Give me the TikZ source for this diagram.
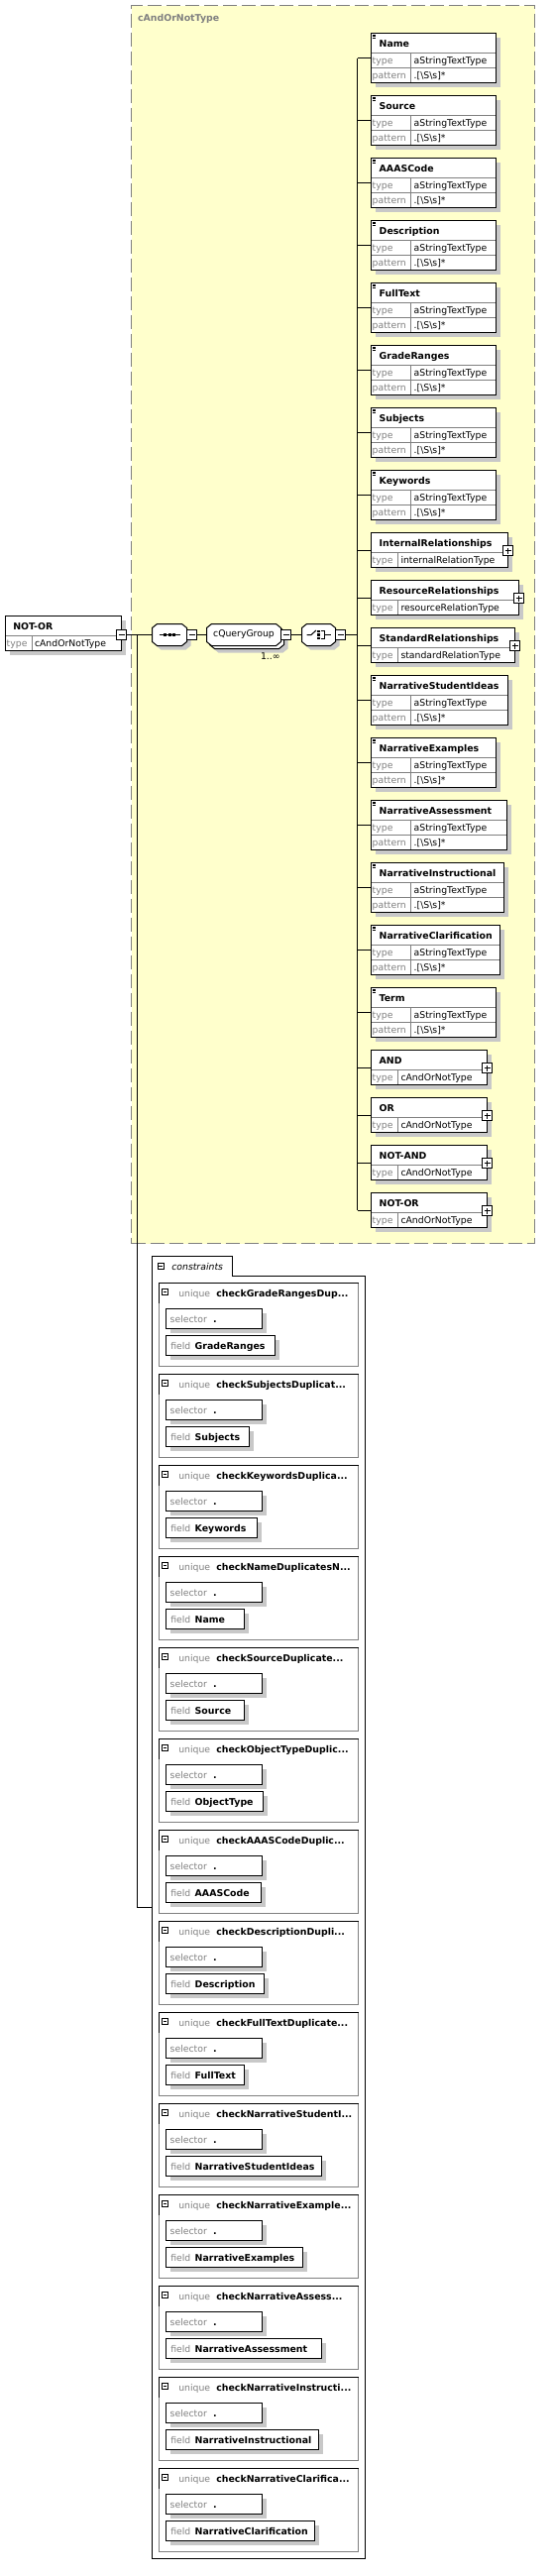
\documentclass[tikz,border=0pt]{standalone}
\usepackage{fontspec}
\setmainfont{DejaVu Sans}
\usetikzlibrary{positioning}
\usepackage{xcolor}

\definecolor{typeyellow}{RGB}{255,255,204}
\definecolor{labelgray}{RGB}{128,128,128}
\definecolor{shadowgray}{RGB}{200,200,200}
\newcommand{\trunc}{...}
% octagon outline round a named node
\newcommand{\octpath}[1]{([xshift=5pt]#1.north west) -- ([xshift=-5pt]#1.north east) -- ([yshift=-4pt]#1.north east)
    -- ([yshift=4pt]#1.south east) -- ([xshift=-5pt]#1.south east) -- ([xshift=5pt]#1.south west)
    -- ([yshift=4pt]#1.south west) -- ([yshift=-4pt]#1.north west) -- cycle}

\begin{document}
\begin{tikzpicture}[
                x=1pt, y=-1pt,
                every node/.style={inner sep=0pt, outer sep=0pt},
                shadowed/.style={preaction={draw=none, fill=shadowgray, transform canvas={xshift=4pt, yshift=-4pt}}},
                elembox/.style={rectangle, draw=black, fill=white, line width=1pt, anchor=north west, shadowed},
                uniquebox/.style={rectangle, draw=labelgray, line width=1pt, anchor=north west},
                compositor/.style={rectangle, minimum height=22pt, anchor=west},
                octline/.style={draw=black, fill=white, line width=1pt},
                octshadow/.style={fill=shadowgray, transform canvas={xshift=4pt, yshift=-4pt}},
                titletxt/.style={font=\fontsize{9.4}{11}\selectfont\bfseries, anchor=base west},
                graytxt/.style={font=\fontsize{9.3}{11}\selectfont, text=labelgray, anchor=base west},
                valtxt/.style={font=\fontsize{9.3}{11}\selectfont, anchor=base west},
                rowline/.style={draw=labelgray, line width=1pt},
                conn/.style={draw=black, line width=1pt},
                collapse/.style={rectangle, draw=black, fill=white, line width=1pt, minimum size=10pt,
                  path picture={\draw[line width=1pt] ([xshift=2pt]path picture bounding box.west) -- ([xshift=-2pt]path picture bounding box.east);}},
                expand/.style={rectangle, draw=black, fill=white, line width=1pt, minimum size=10pt,
                  path picture={\draw[line width=1pt] ([xshift=2pt]path picture bounding box.west) -- ([xshift=-2pt]path picture bounding box.east)
                                 ([yshift=2pt]path picture bounding box.south) -- ([yshift=-2pt]path picture bounding box.north);}},
                smallcollapse/.style={rectangle, draw=black, fill=white, line width=.8pt, minimum size=6pt,
                  path picture={\draw[line width=.8pt] ([xshift=1.2pt]path picture bounding box.west) -- ([xshift=-1.2pt]path picture bounding box.east);}},
                ]
        \useasboundingbox (0,0) rectangle (558,2599);

        % complex type area
        \node[draw=labelgray, fill=typeyellow, line width=1pt, dash pattern=on 14pt off 5pt,
              minimum width=407pt, minimum height=1249pt, anchor=north west] (ctype) at (132.5,5.5) {};
        \node[titletxt, text=labelgray] (ctypename) at (139,21.5) {cAndOrNotType};

        % root element
        \node[elembox, minimum width=117pt, minimum height=35pt] (root) at (5.5,621.5) {};
        \draw[rowline] (6,641.5) -- (122,641.5) (32.5,641.5) -- (32.5,656);
        \node[titletxt] at (13.3,635.5) {NOT-OR};
        \node[graytxt] at (6.7,652.5) {type};
        \node[valtxt] at (35,652.5) {cAndOrNotType};
        \node[collapse] (rootmin) at (122.5,640.5) {};

        % sequence, group, choice
        \node[compositor, minimum width=35pt] (seq) at (153.5,640.5) {};
        \fill[octshadow] \octpath{seq};
        \draw[octline] \octpath{seq};
        \draw[line width=1pt] ([xshift=-10.5pt]seq.center) -- ([xshift=10.5pt]seq.center);
        \foreach \dx in {-4.5,0,4.5}
            \fill ([xshift=\dx pt]seq.center) +(-1.5,-1.5) rectangle +(1.5,1.5);
        \node[collapse] (seqmin) at (193.5,640.5) {};

        \node[compositor, minimum width=75pt] (qgstack) at (211.5,643.5) {};
        \fill[octshadow] \octpath{qgstack};
        \draw[octline] \octpath{qgstack};
        \node[compositor, minimum width=75pt] (qgroup) at (208.5,640.5) {};
        \draw[octline] \octpath{qgroup};
        \node[font=\fontsize{9.3}{11}\selectfont] (qgname) at (qgroup.center) {cQueryGroup};
        \node[collapse] (qgmin) at (288.5,640.5) {};
        \node[valtxt] (qgmult) at (263,665.5) {1..∞};

        \node[compositor, minimum width=34pt] (choice) at (304.5,640.5) {};
        \fill[octshadow] \octpath{choice};
        \draw[octline] \octpath{choice};
        \draw[line width=1pt] (choice.center) ++(-12,0) -- ++(4.5,0) -- ++(5,-4.5);
        \foreach \dy in {-3.5,0,3.5}
            \fill ([yshift=-\dy pt]choice.center) +(-1.2,-1.2) rectangle +(1.2,1.2);
        \draw[line width=1pt] (choice.center) ++(2.5,-4) -- ++(3,0) -- ++(0,8) -- ++(-3,0);
        \draw[line width=1pt] (choice.center) ++(5.5,0) -- ++(6.5,0);
        \node[collapse] (chmin) at (343.5,640.5) {};
        \coordinate (chjoin) at (360.5,640.5);

        \draw[conn] (rootmin) -- (seq);
        \draw[conn] (seqmin) -- (qgroup);
        \draw[conn] (qgmin) -- (choice);
        \draw[conn] (chmin) -- (chjoin);

        % elements with pattern
        \foreach \tp/\nm/\rx in {33.5/Name/500.5, 96.5/Source/500.5, 159.5/AAASCode/500.5,
                222.5/Description/500.5, 285.5/FullText/500.5, 348.5/GradeRanges/500.5,
                411.5/Subjects/500.5, 474.5/Keywords/500.5, 681.5/NarrativeStudentIdeas/512.5,
                744.5/NarrativeExamples/500.5, 807.5/NarrativeAssessment/511.5,
                870.5/NarrativeInstructional/508.5, 933.5/NarrativeClarification/504.5,
                996.5/Term/500.5} {
            \node[elembox, minimum width=\rx pt-374.5pt, minimum height=50pt] (elem-\nm) at (374.5,\tp) {};
            \draw[rowline] (375,\tp+20) -- (\rx-0.5,\tp+20) (375,\tp+35) -- (\rx-0.5,\tp+35)
                           (414.5,\tp+20) -- (414.5,\tp+49.5);
            \draw[line width=.7pt] (375.8,\tp+1.5) -- ++(3.5,0) (375.8,\tp+3) -- ++(3.5,0) (375.8,\tp+4.5) -- ++(3.5,0);
            \node[titletxt] at (382.7,\tp+14) {\nm};
            \node[graytxt] at (375.7,\tp+31) {type};
            \node[valtxt] at (417.7,\tp+31) {aStringTextType};
            \node[graytxt] at (375.7,\tp+46) {pattern};
            \node[valtxt] at (417.7,\tp+46) {.[\textbackslash S\textbackslash s]*};
            \draw[conn] (elem-\nm.west) -- (elem-\nm.west -| chjoin);
        }

        % elements with complex type
        \foreach \tp/\nm/\ty/\rx in {537.5/InternalRelationships/internalRelationType/512.5,
                585.5/ResourceRelationships/resourceRelationType/523.5,
                633.5/StandardRelationships/standardRelationType/519.5,
                1059.5/AND/cAndOrNotType/491.5, 1107.5/OR/cAndOrNotType/491.5,
                1155.5/NOT-AND/cAndOrNotType/491.5, 1203.5/NOT-OR/cAndOrNotType/491.5} {
            \node[elembox, minimum width=\rx pt-374.5pt, minimum height=35pt] (elem-\nm) at (374.5,\tp) {};
            \draw[rowline] (375,\tp+20) -- (\rx-0.5,\tp+20) (401.5,\tp+20) -- (401.5,\tp+34.5);
            \node[titletxt] at (382.7,\tp+14) {\nm};
            \node[graytxt] at (375.7,\tp+31) {type};
            \node[valtxt] at (404.5,\tp+31) {\ty};
            \node[expand] (plus-\nm) at (\rx,\tp+18) {};
            \draw[conn] (elem-\nm.west) -- (elem-\nm.west -| chjoin);
        }

        \draw[conn] (elem-Name.west -| chjoin) -- (elem-NOT-OR.west -| chjoin);

        % identity constraints
        \draw[line width=1pt, fill=white] (153.5,2581.5) -- (153.5,1267.5) -- (234.5,1267.5) -- (234.5,1287.5)
            -- (368.5,1287.5) -- (368.5,2581.5) -- cycle;
        \node[anchor=north west, minimum width=215pt, minimum height=1294pt] (cons) at (153.5,1287.5) {};
        \node[smallcollapse] (consmin) at (162,1277.5) {};
        \node[valtxt, font=\fontsize{9.3}{11}\selectfont\itshape] at (173.3,1281) {constraints};

        \coordinate (rtjoin) at (138.5,640.5);
        \coordinate (consjoin) at (138.5,1924.5);
        \draw[conn] (rtjoin) -- (consjoin) -- (consjoin -| cons.west);

        \foreach \tp/\cn/\fn/\fr [count=\i] in {1294.5/GradeRangesDup\trunc/GradeRanges/277.5,
                1386.5/SubjectsDuplicat\trunc/Subjects/251.5, 1478.5/KeywordsDuplica\trunc/Keywords/259.5,
                1570.5/NameDuplicatesN\trunc/Name/246.5, 1662.5/SourceDuplicate\trunc/Source/246.5,
                1754.5/ObjectTypeDuplic\trunc/ObjectType/265.5, 1846.5/AAASCodeDuplic\trunc/AAASCode/263.5,
                1938.5/DescriptionDupli\trunc/Description/266.5, 2030.5/FullTextDuplicate\trunc/FullText/246.5,
                2122.5/NarrativeStudentI\trunc/NarrativeStudentIdeas/324.5,
                2214.5/NarrativeExample\trunc/NarrativeExamples/305.5,
                2306.5/NarrativeAssess\trunc/NarrativeAssessment/324.5,
                2398.5/NarrativeInstructi\trunc/NarrativeInstructional/321.5,
                2490.5/NarrativeClarifica\trunc/NarrativeClarification/317.5} {
            \node[uniquebox, minimum width=201pt, minimum height=84pt] (uq-\i) at (160.5,\tp) {};
            \draw[line width=1pt] (160.5,\tp+20) -- (160.5,\tp) -- (361.5,\tp);
            \node[smallcollapse] (uqmin-\i) at (166.5,\tp+9) {};
            \node[graytxt] at (180.3,\tp+14) {unique};
            \node[titletxt] at (218.3,\tp+14) {check\cn};
            \node[elembox, minimum width=97pt, minimum height=20pt] (sel-\i) at (167.5,\tp+26) {};
            \node[graytxt] at (171.7,\tp+40) {selector};
            \node[titletxt] at (215,\tp+40) {.};
            \node[elembox, minimum width=\fr pt-167.5pt, minimum height=20pt] (fld-\i) at (167.5,\tp+53) {};
            \node[graytxt] at (172.3,\tp+67) {field};
            \node[titletxt] at (196.7,\tp+67) {\fn};
        }

    \end{tikzpicture}
\end{document}
